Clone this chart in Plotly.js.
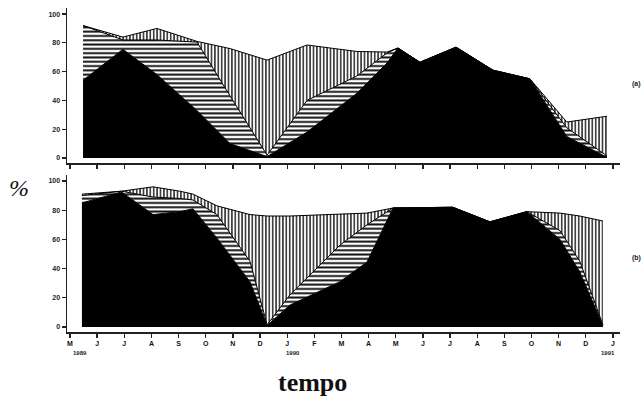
<!DOCTYPE html>
<html>
<head>
<meta charset="utf-8">
<script src="https://cdn.plot.ly/plotly-3.0.1.min.js"></script>
<style>html,body{margin:0;padding:0;background:#fff}#chart{width:642px;height:398px}</style>
</head>
<body>
<div id="chart"></div>
<script>
// Month ticks (index 0 = May 1989 ... 20 = Jan 1991)
const monthLabels = ["M","J","J","A","S","O","N","D","J","F","M","A","M","J","J","A","S","O","N","D","J"];
const monthIdx = monthLabels.map((_, i) => i);
const yTicks = [0, 20, 40, 60, 80, 100];

// Panel (a): sampling dates (month index) and layer percentages
const xA       = [0.48, 1.95, 3.2, 4.68, 5.9, 7.26, 8.73, 10.57, 11.68, 12.08, 12.89, 14.22, 15.58, 16.94, 18.3, 19.78];
const blackA   = [54, 75.5, 58, 33, 10, 1, 18, 45, 66, 76.4, 66.5, 77, 61, 55, 15, 0.5];
const horizA   = [38, 6.5, 24, 47.5, 33, 1, 22, 12, 7, 0, 0, 0, 0, 0, 6, 1];
const vertA    = [0, 2, 8, 0.5, 33, 66, 38.5, 17, 0.6, 0, 0, 0, 0, 0, 4, 27.5];

// Panel (b)
const xB       = [0.44, 1.9, 3.06, 4.05, 4.53, 5.41, 6.63, 7.26, 8.1, 9.94, 10.94, 11.9, 14.1, 15.47, 16.83, 18.05, 18.78, 19.63];
const blackB   = [85, 92.5, 77, 79, 81, 61, 31, 1, 15, 31, 44.5, 81.5, 82, 72, 79, 60, 37.7, 1];
const horizB   = [5, 0.5, 12, 9, 6, 16, 14, 0.5, 7, 25, 25.5, 0, 0, 0, 0, 6, 7.3, 0.5];
const vertB    = [1, 0, 7, 5, 4, 6, 32, 74.5, 54, 21, 8, 0, 0, 0, 0, 12, 31, 71.1];

const yearLabels = ["1989", "1990", "1991"];
const yearPos = [0.37, 8.2, 19.8];

function layers(x, k, h, v, xa, ya, grp) {
  const ln = {color: '#000', width: 1, shape: 'linear'};
  return [
    {x: x, y: k, xaxis: xa, yaxis: ya, stackgroup: grp, mode: 'lines', line: ln,
     fillcolor: '#000', hoverinfo: 'skip'},
    {x: x, y: h, xaxis: xa, yaxis: ya, stackgroup: grp, mode: 'lines', line: ln,
     fillcolor: '#fff',
     fillpattern: {shape: '-', fgcolor: '#111', bgcolor: '#fff', size: 4.3, solidity: 0.45},
     hoverinfo: 'skip'},
    {x: x, y: v, xaxis: xa, yaxis: ya, stackgroup: grp, mode: 'lines', line: ln,
     fillcolor: '#fff',
     fillpattern: {shape: '|', fgcolor: '#111', bgcolor: '#fff', size: 3.4, solidity: 0.4},
     hoverinfo: 'skip'}
  ];
}

const data = [].concat(
  layers(xA, blackA, horizA, vertA, 'x', 'y', 'a'),
  layers(xB, blackB, horizB, vertB, 'x2', 'y2', 'b')
);

const axX = {
  range: [-0.11, 20.26], tickmode: 'array', tickvals: monthIdx,
  ticks: 'outside', ticklen: 4, tickwidth: 1.3, tickcolor: '#222',
  showline: true, linecolor: '#222', linewidth: 1.5,
  showgrid: false, zeroline: false, fixedrange: true
};
const axY = {
  tickmode: 'array', tickvals: yTicks,
  ticks: 'outside', ticklen: 4, tickwidth: 1.2, tickcolor: '#222',
  showline: true, linecolor: '#222', linewidth: 1.5,
  showgrid: false, zeroline: false,
  tickfont: {family: 'Liberation Sans', size: 7, color: '#222', weight: 'bold'}
};

const annFont = {family: 'Liberation Sans', size: 6, color: '#222', weight: 'bold'};
const annotations = yearLabels.map((t, i) => ({
  text: t, x: yearPos[i], xref: 'x2', y: -0.065, yref: 'paper',
  showarrow: false, font: annFont, xanchor: 'center', yanchor: 'middle'
}));
annotations.push(
  {text: '%', x: -0.087, y: 0.444, xref: 'paper', yref: 'paper', showarrow: false,
   font: {family: 'Liberation Serif', size: 24, color: '#111', style: 'italic'}, xanchor: 'center', yanchor: 'middle'},
  {text: 'tempo', x: 0.444, y: -0.155, xref: 'paper', yref: 'paper', showarrow: false,
   font: {family: 'Liberation Serif', size: 26, color: '#111', weight: 'bold'}, xanchor: 'center', yanchor: 'middle'},
  {text: '(a)', x: 1.018, y: 0.765, xref: 'paper', yref: 'paper', showarrow: false,
   font: {family: 'Liberation Sans', size: 7, color: '#222', weight: 'bold'}, xanchor: 'left', yanchor: 'middle'},
  {text: '(b)', x: 1.018, y: 0.228, xref: 'paper', yref: 'paper', showarrow: false,
   font: {family: 'Liberation Sans', size: 7, color: '#222', weight: 'bold'}, xanchor: 'left', yanchor: 'middle'}
);

const layout = {
  width: 642, height: 398,
  margin: {l: 67, r: 22, t: 8, b: 66},
  paper_bgcolor: '#fff', plot_bgcolor: '#fff',
  showlegend: false,
  xaxis: Object.assign({}, axX, {domain: [0, 1], anchor: 'y', showticklabels: false}),
  yaxis: Object.assign({}, axY, {domain: [0.5216, 1], anchor: 'x', range: [-3.47, 104.2]}),
  xaxis2: Object.assign({}, axX, {domain: [0, 1], anchor: 'y2', ticktext: monthLabels,
    tickfont: {family: 'Liberation Sans', size: 7, color: '#111', weight: 'bold'}}),
  yaxis2: Object.assign({}, axY, {domain: [0, 0.4846], anchor: 'x2', range: [-3.42, 104.1]}),
  annotations: annotations
};

Plotly.newPlot('chart', data, layout, {displayModeBar: false, staticPlot: true});
</script>
</body>
</html>
